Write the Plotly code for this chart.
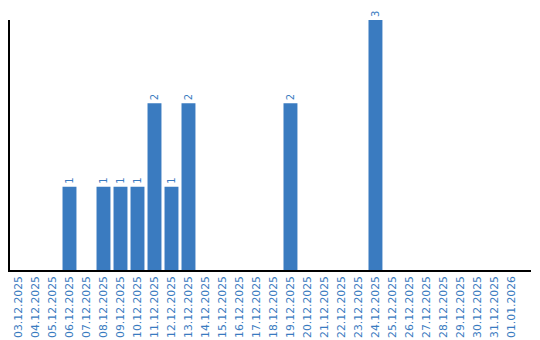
import plotly.graph_objects as go

dates = ["03.12.2025", "04.12.2025", "05.12.2025", "06.12.2025", "07.12.2025",
         "08.12.2025", "09.12.2025", "10.12.2025", "11.12.2025", "12.12.2025",
         "13.12.2025", "14.12.2025", "15.12.2025", "16.12.2025", "17.12.2025",
         "18.12.2025", "19.12.2025", "20.12.2025", "21.12.2025", "22.12.2025",
         "23.12.2025", "24.12.2025", "25.12.2025", "26.12.2025", "27.12.2025",
         "28.12.2025", "29.12.2025", "30.12.2025", "31.12.2025", "01.01.2026"]
counts = [0, 0, 0, 1, 0, 1, 1, 1, 2, 1, 2, 0, 0, 0, 0, 0, 2, 0, 0, 0, 0, 3,
          0, 0, 0, 0, 0, 0, 0, 0]

blue = "#3a7bc0"
labels = [str(v) if v > 0 else "" for v in counts]

fig = go.Figure(go.Bar(
    x=dates, y=counts, text=labels, textposition="outside", textangle=-90,
    textfont=dict(color=blue, size=10, family="DejaVu Sans"),
    marker=dict(color=blue, line=dict(width=0)), cliponaxis=False,
    constraintext="none",
))
fig.update_layout(
    width=540, height=340, margin=dict(l=10, r=9, t=20, b=70),
    plot_bgcolor="white", paper_bgcolor="white", bargap=0.18,
    showlegend=False,
)
fig.update_xaxes(type="category", range=[-0.5, 30.15], showline=True,
                 linecolor="black", linewidth=1.5, tickangle=-90, ticks="",
                 tickfont=dict(color=blue, size=10.8, family="DejaVu Sans"),
                 showgrid=False, automargin=False)
fig.update_yaxes(range=[0, 3], showline=True, linecolor="black", linewidth=1.5,
                 showticklabels=False, ticks="", showgrid=False, zeroline=False,
                 automargin=False)
fig.write_html("out.html")
